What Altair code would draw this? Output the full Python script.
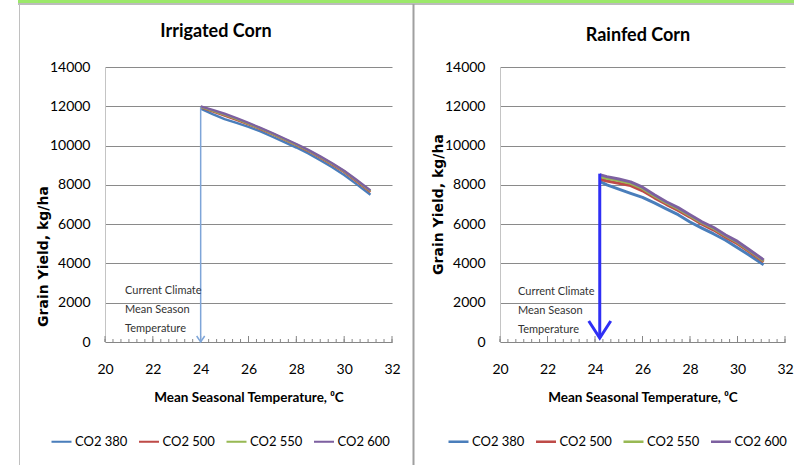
import altair as alt
import pandas as pd

# ---------------- data ----------------
series = ["CO2 380", "CO2 500", "CO2 550", "CO2 600"]
colors = ["#4a7ebb", "#be4b48", "#98b954", "#7d60a0"]

irr_temp = [24.0, 24.5, 25.0, 25.5, 26.0, 26.5, 27.0, 27.5, 28.0, 28.5, 29.0, 29.5, 30.0, 30.5, 31.1]
irr_380 = [11880, 11600, 11350, 11150, 10950, 10720, 10450, 10180, 9900, 9600, 9250, 8900, 8500, 8050, 7500]
irr_500 = [11940, 11740, 11530, 11310, 11080, 10840, 10580, 10300, 10020, 9720, 9380, 9030, 8650, 8200, 7640]
irr_550 = [11970, 11780, 11580, 11360, 11120, 10870, 10610, 10330, 10050, 9750, 9420, 9070, 8690, 8240, 7680]
irr_600 = [12000, 11820, 11620, 11400, 11150, 10900, 10640, 10360, 10080, 9780, 9450, 9100, 8720, 8270, 7720]

rain_temp = [24.2, 24.5, 25.0, 25.5, 26.0, 26.5, 27.0, 27.5, 28.0, 28.5, 29.0, 29.5, 30.0, 30.5, 31.1]
rain_380 = [8180, 8000, 7780, 7570, 7360, 7080, 6780, 6480, 6110, 5800, 5500, 5180, 4800, 4420, 3930]
rain_500 = [8300, 8200, 8080, 7960, 7700, 7340, 7010, 6700, 6360, 6000, 5700, 5340, 5000, 4590, 4080]
rain_550 = [8420, 8340, 8220, 8080, 7820, 7440, 7090, 6790, 6430, 6070, 5780, 5410, 5080, 4660, 4140]
rain_600 = [8520, 8420, 8300, 8150, 7880, 7500, 7140, 6840, 6480, 6120, 5830, 5450, 5120, 4700, 4180]

x_ticks = [20, 22, 24, 26, 28, 30, 32]
x_minor = [round(20 + i / 3, 4) for i in range(37)]
y_ticks = [0, 2000, 4000, 6000, 8000, 10000, 12000, 14000]

# current climate arrows: x position, top, bottom (yield units)
irr_arrow = {"Temp": [24.0], "Yield": [11950], "Yield2": [0]}
rain_arrow = {"Temp": [24.2], "Yield": [8570], "Yield2": [200]}

annotation = ["Current Climate", "Mean Season", "Temperature"]

# ---------------- style ----------------
H = 275
FONT = "Lato"
xs = alt.Scale(domain=[20, 32], nice=False, zero=False)
ys = alt.Scale(domain=[0, 14000], nice=False)

x_axis = alt.Axis(values=x_ticks, title="Mean Seasonal Temperature, \u2070C",
                  grid=False, ticks=False, tickSize=0, labelFlush=False,
                  domainColor="#868686", labelFontSize=14, labelFont=FONT,
                  labelColor="#000000", labelPadding=20,
                  titleFont=FONT, titleFontSize=13.5, titleFontWeight="bold",
                  titleColor="#000000", titlePadding=14)


def y_axis(tpos):
    return alt.Axis(values=y_ticks, title="Grain Yield, kg/ha", grid=True, format="d",
                    gridColor="#8a8a8a", ticks=False, tickSize=0, labelFlush=False,
                    domainColor="#c4c4c4", labelFontSize=14, labelFont=FONT,
                    labelColor="#000000", labelPadding=15,
                    titleFont="DejaVu Sans", titleFontSize=14,
                    titleFontWeight="bold", titleColor="#000000",
                    titleX=tpos[0], titleY=tpos[1],
                    titleAlign="center", titleBaseline="middle", titleAngle=270)


def long_df(temps, vals):
    rows = []
    for s, v in zip(series, vals):
        for t, y in zip(temps, v):
            rows.append({"Temp": t, "Yield": y, "Series": s})
    return pd.DataFrame(rows)


def panel(title, title_pos, temps, vals, arrow, arrow_color, arrow_w, head_size,
          head_path, line_w, ann_pos, ytitle_pos, legend_pos, col_pad, width, extra=None):
    ya = y_axis(ytitle_pos)
    df = long_df(temps, vals)
    lines = alt.Chart(df).mark_line(strokeWidth=line_w, strokeJoin="round").encode(
        x=alt.X("Temp:Q", scale=xs, axis=x_axis),
        y=alt.Y("Yield:Q", scale=ys, axis=ya),
        color=alt.Color("Series:N", scale=alt.Scale(domain=series, range=colors),
                        legend=alt.Legend(orient="none", legendX=legend_pos[0],
                                          legendY=legend_pos[1], direction="horizontal",
                                          title=None, symbolType="stroke", symbolSize=400,
                                          symbolStrokeWidth=line_w * 0.85, labelFontSize=13,
                                          labelFont=FONT, labelColor="#000000",
                                          labelOffset=2, columnPadding=col_pad, padding=0)),
    )
    adf = pd.DataFrame(arrow)
    shaft = alt.Chart(adf).mark_rule(color=arrow_color, strokeWidth=arrow_w).encode(
        x=alt.X("Temp:Q", scale=xs, axis=x_axis),
        y=alt.Y("Yield:Q", scale=ys, axis=ya),
        y2="Yield2:Q",
    )
    r = (head_size ** 0.5) / 2
    head = alt.Chart(adf).mark_point(shape=head_path, filled=False, color=arrow_color,
                                     strokeWidth=arrow_w, size=head_size, opacity=1,
                                     yOffset=-r, strokeJoin="miter").encode(
        x=alt.X("Temp:Q", scale=xs, axis=x_axis),
        y=alt.Y("Yield2:Q", scale=ys, axis=ya),
    )
    minor = alt.Chart(pd.DataFrame({"Temp": x_minor})).mark_rule(color="#868686").encode(
        x=alt.X("Temp:Q", scale=xs, axis=x_axis), y=alt.value(H), y2=alt.value(H - 3))
    major = alt.Chart(pd.DataFrame({"Temp": x_ticks})).mark_rule(color="#868686").encode(
        x=alt.X("Temp:Q", scale=xs, axis=x_axis), y=alt.value(H), y2=alt.value(H - 6))
    one = pd.DataFrame({"k": [0]})
    ann = alt.Chart(one).mark_text(align="left", baseline="top", font=FONT, fontSize=11,
                                   lineHeight=19, color="#333333").encode(
        x=alt.value(ann_pos[0]), y=alt.value(ann_pos[1]), text=alt.value(annotation))
    ttl = alt.Chart(one).mark_text(align="center", baseline="middle", font=FONT,
                                   fontSize=18, fontWeight="bold", color="#000000").encode(
        x=alt.value(title_pos[0]), y=alt.value(title_pos[1]), text=alt.value(title))
    layers = [lines, minor, major, shaft, head, ann, ttl]
    if extra:
        layers = extra + layers
    return alt.layer(*layers).properties(width=width, height=H)


one = pd.DataFrame({"k": [0]})
deco = [
    alt.Chart(one).mark_rule(color="#9be86a", strokeWidth=3).encode(
        x=alt.value(-87), x2=alt.value(700), y=alt.value(-65.5)),
    alt.Chart(one).mark_rule(color="#a6a6a6", strokeWidth=1.5).encode(
        x=alt.value(-87), x2=alt.value(700), y=alt.value(-63)),
    alt.Chart(one).mark_rule(color="#c0c0c0", strokeWidth=1).encode(
        x=alt.value(-85.5), y=alt.value(-63), y2=alt.value(400)),
    alt.Chart(one).mark_rule(color="#a0a0a0", strokeWidth=2).encode(
        x=alt.value(308.5), y=alt.value(-63), y2=alt.value(400)),
]

left = panel("Irrigated Corn", (111, -35), irr_temp, [irr_380, irr_500, irr_550, irr_600],
             irr_arrow, "#7ea5d8", 1.5, 64, "M-1,-0.5L0,1L1,-0.5", 2.4,
             (20, 218), (-62, 189), (-55, 363), 6.5, 287, extra=deco)
right = panel("Rainfed Corn", (138, -31), rain_temp, [rain_380, rain_500, rain_550, rain_600],
              rain_arrow, "#2f2ff5", 3, 484, "M-1,-0.55L0,1L1,-0.55", 3,
              (18, 219), (-62, 137), (-53, 363), 5.5, 285)

chart = alt.hconcat(left, right, spacing=108, bounds="flush").resolve_scale(
    color="independent"
).properties(
    autosize=alt.AutoSizeParams(type="none"),
    padding={"left": 105, "top": 67, "right": 689, "bottom": 398},
    background="#ffffff",
).configure_view(strokeWidth=0)

chart.save("out.html", embed_options={"renderer": "svg", "actions": False})
